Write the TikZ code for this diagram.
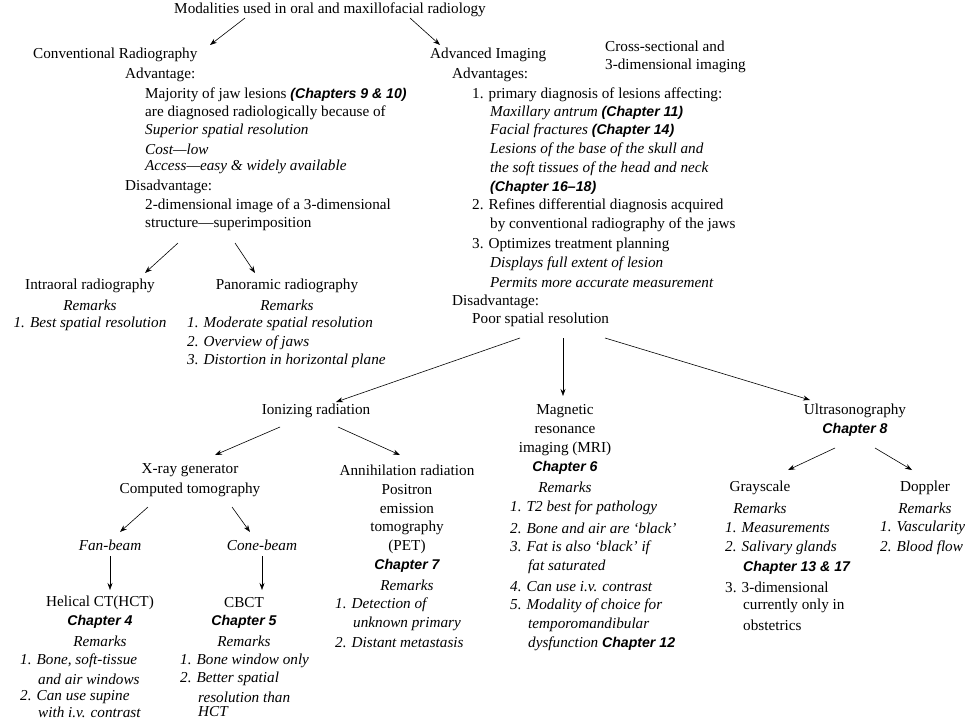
\documentclass[tikz,border=0pt]{standalone}
\usepackage{fontspec}
\usetikzlibrary{arrows.meta}
\setmainfont{Liberation Serif}
\newfontfamily\chf{Liberation Sans}[Scale=0.93]
\newcommand{\chp}[1]{{\chf\bfseries\itshape #1}}
\begin{document}
\begin{tikzpicture}[x=1pt,y=-1pt,
  every node/.style={font=\fontsize{15.2}{18}\selectfont,inner sep=0pt},
  L/.style={anchor=west},
  C/.style={anchor=center},
  ar/.style={-{Stealth[length=7pt,width=5pt]},line width=0.6pt}]
\useasboundingbox (0,0) rectangle (970,720);
\node[C] (top) at (330,10) {Modalities used in oral and maxillofacial radiology};
\node[L] (conv) at (33,55) {Conventional Radiography};
\node[L] (adv) at (430,55) {Advanced Imaging};
\draw[ar] (245,18) -- (210,45);
\draw[ar] (410,18) -- (440,45);
\node[L] (cs1) at (605,46) {Cross-sectional and};
\node[L] (cs2) at (605,66) {3-dimensional imaging};
% conventional
\node[L] (ca) at (125,75) {Advantage:};
\node[L] (c1) at (145,95) {Majority of jaw lesions \chp{(Chapters 9 \& 10)}};
\node[L] (c2) at (145,113) {are diagnosed radiologically because of};
\node[L] (c3) at (145,131) {\itshape Superior spatial resolution};
\node[L] (c4) at (145,149) {\itshape Cost—low};
\node[L] (c5) at (145,167) {\itshape Access—easy \& widely available};
\node[L] (cd) at (125,187) {Disadvantage:};
\node[L] (c6) at (145,206) {2-dimensional image of a 3-dimensional};
\node[L] (c7) at (145,224) {structure—superimposition};
\coordinate (cb1) at (178,243); \coordinate (cb2) at (235,243);
\node[C] (intra) at (90,286) {Intraoral radiography};
\node[C] (intraR) at (90,305) {\itshape Remarks};
\node[C] (intra1) at (90,324) {\itshape 1. Best spatial resolution};
\node[C] (pano) at (287,286) {Panoramic radiography};
\node[C] (panoR) at (287,305) {\itshape Remarks};
\node[L] (p1) at (187,324) {\itshape 1. Moderate spatial resolution};
\node[L] (p2) at (187,343) {\itshape 2. Overview of jaws};
\node[L] (p3) at (187,361) {\itshape 3. Distortion in horizontal plane};
\coordinate (ie) at (145,273); \coordinate (pe) at (255,273);
\draw[ar] (cb1) -- (ie);
\draw[ar] (cb2) -- (pe);
% advanced
\node[L] (aa) at (452,75) {Advantages:};
\node[L] (a1) at (472,95) {1. primary diagnosis of lesions affecting:};
\node[L] (a2) at (490,113) {\itshape Maxillary antrum \chp{(Chapter 11)}};
\node[L] (a3) at (490,131) {\itshape Facial fractures \chp{(Chapter 14)}};
\node[L] (a4) at (490,150) {\itshape Lesions of the base of the skull and};
\node[L] (a5) at (490,169) {\itshape the soft tissues of the head and neck};
\node[L] (a6) at (490,188) {\chp{(Chapter 16–18)}};
\node[L] (a7) at (472,206) {2. Refines differential diagnosis acquired};
\node[L] (a8) at (490,225) {by conventional radiography of the jaws};
\node[L] (a9) at (472,245) {3. Optimizes treatment planning};
\node[L] (a10) at (490,264) {\itshape Displays full extent of lesion};
\node[L] (a11) at (490,283) {\itshape Permits more accurate measurement};
\node[L] (ad) at (452,302) {Disadvantage:};
\node[L] (a12) at (472,320) {Poor spatial resolution};
% second level
\node[C] (ion) at (316,411) {Ionizing radiation};
\node[C] (mri) at (565,411) {Magnetic};
\node[C] (mri2) at (565,430) {resonance};
\node[C] (mri3) at (565,449) {imaging (MRI)};
\node[C] (mri4) at (565,468) {\chp{Chapter 6}};
\node[C] (mri5) at (565,487) {\itshape Remarks};
\node[L] at (510,508) {\itshape 1. T2 best for pathology};
\node[L] at (510,528) {\itshape 2. Bone and air are ‘black’};
\node[L] at (510,548) {\itshape 3. Fat is also ‘black’ if};
\node[L] at (528,567) {\itshape fat saturated};
\node[L] at (510,587) {\itshape 4. Can use i.v. contrast};
\node[L] at (510,606) {\itshape 5. Modality of choice for};
\node[L] at (528,625) {\itshape temporomandibular};
\node[L] at (528,644) {\itshape dysfunction \chp{Chapter 12}};
\node[C] (us) at (855,411) {Ultrasonography};
\node[C] (us2) at (855,430) {\chp{Chapter 8}};
\draw[ar] (520,338) -- (336,402);
\draw[ar] (563,338) -- (563,396);
\draw[ar] (605,338) -- (810,400);
% ionizing
\node[C] (xr) at (190,470) {X-ray generator};
\node[C] (xr2) at (190,490) {Computed tomography};
\node[C] (ann) at (407,470) {Annihilation radiation};
\node[C] at (407,490) {Positron};
\node[C] at (407,509) {emission};
\node[C] at (407,528) {tomography};
\node[C] at (407,547) {(PET)};
\node[C] at (407,566) {\chp{Chapter 7}};
\node[C] at (407,585) {\itshape Remarks};
\node[L] at (335,605) {\itshape 1. Detection of};
\node[L] at (353,624) {\itshape unknown primary};
\node[L] at (335,643) {\itshape 2. Distant metastasis};
\draw[ar] (280,427) -- (215,455);
\draw[ar] (338,427) -- (400,455);
\node[C] (fan) at (110,545) {\itshape Fan-beam};
\node[C] (cone) at (262,545) {\itshape Cone-beam};
\draw[ar] (148,507) -- (120,532);
\draw[ar] (232,507) -- (250,532);
\draw[ar] (110,556) -- (110,590);
\draw[ar] (262,556) -- (262,590);
\node[C] (hct) at (100,603) {Helical CT(HCT)};
\node[C] at (100,622) {\chp{Chapter 4}};
\node[C] at (100,641) {\itshape Remarks};
\node[L] at (20,661) {\itshape 1. Bone, soft-tissue};
\node[L] at (38,679) {\itshape and air windows};
\node[L] at (20,697) {\itshape 2. Can use supine};
\node[L] at (38,712) {\itshape with i.v. contrast};
\node[C] (cbct) at (244,603) {CBCT};
\node[C] at (244,622) {\chp{Chapter 5}};
\node[C] at (244,641) {\itshape Remarks};
\node[L] at (180,661) {\itshape 1. Bone window only};
\node[L] at (180,679) {\itshape 2. Better spatial};
\node[L] at (198,697) {\itshape resolution than};
\node[L] at (198,712) {\itshape HCT};
% ultrasound
\draw[ar] (835,448) -- (788,470);
\draw[ar] (875,448) -- (912,470);
\node[C] (gs) at (760,488) {Grayscale};
\node[C] at (760,508) {\itshape Remarks};
\node[L] at (725,528) {\itshape 1. Measurements};
\node[L] at (725,548) {\itshape 2. Salivary glands};
\node[L] at (743,568) {\chp{Chapter 13 \& 17}};
\node[L] at (725,587) {3. 3-dimensional};
\node[L] at (743,606) {currently only in};
\node[L] at (743,625) {obstetrics};
\node[C] (dop) at (925,488) {Doppler};
\node[C] at (925,508) {\itshape Remarks};
\node[L] at (880,528) {\itshape 1. Vascularity};
\node[L] at (880,548) {\itshape 2. Blood flow};
\end{tikzpicture}
\end{document}
